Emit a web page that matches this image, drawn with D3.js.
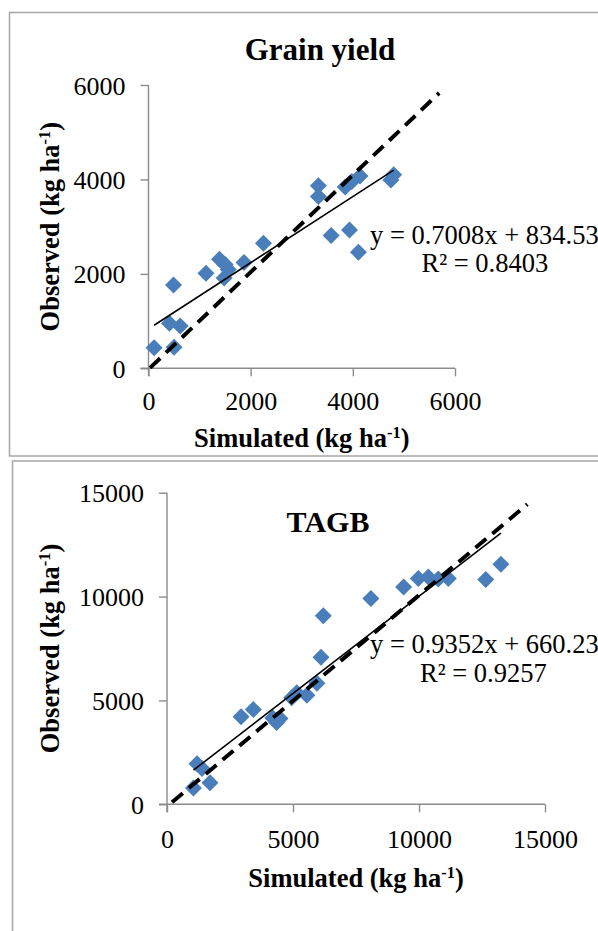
<!DOCTYPE html>
<html>
<head>
<meta charset="utf-8">
<script src="https://cdn.jsdelivr.net/npm/d3@7/dist/d3.min.js"></script>
<style>
  html, body { margin: 0; padding: 0; background: #fff; }
  svg { display: block; }
  svg text { font-family: "Liberation Serif", "Times New Roman", serif; }
</style>
</head>
<body>
<svg id="chart" width="598" height="931"></svg>
<script>
// Grain yield: simulated vs observed (kg/ha)
const grainSimulated = [110, 500, 410, 620, 490, 1125, 1390, 1480, 1560, 1500, 1870, 2250,
                        3325, 3325, 3575, 3935, 4110, 3850, 3980, 4140, 4745, 4800];
const grainObserved  = [437, 445, 955, 897, 1765, 2015, 2310, 1910, 2090, 2200, 2240, 2650,
                        3865, 3640, 2810, 2930, 2460, 3840, 3955, 4075, 3990, 4100];
const grainFit = { slope: 0.7008, intercept: 834.53, r2: 0.8403 };
const grainOneToOne = [[30, 10], [5690, 5830]];
const grainTicks = [0, 2000, 4000, 6000];

// Total above-ground biomass: simulated vs observed (kg/ha)
const tagbSimulated = [1050, 1190, 1390, 1706, 2940, 3425, 4200, 4350, 4484, 4948, 5150, 5550,
                       5950, 6110, 6202, 8090, 9390, 9972, 10370, 10766, 11163, 12650, 13250];
const tagbObserved  = [790, 1950, 1720, 1040, 4210, 4560, 4150, 3940, 4135, 5130, 5370, 5250,
                       5830, 7080, 9080, 9905, 10465, 10868, 10945, 10840, 10868, 10817, 11553];
const tagbFit = { slope: 0.9352, intercept: 660.23, r2: 0.9257 };
const tagbOneToOne = [[200, 100], [14300, 14440]];
const tagbTicks = [0, 5000, 10000, 15000];

const svg = d3.select("#chart");
svg.append("rect").attr("width", 598).attr("height", 931).attr("fill", "#fff");

// panel frames
svg.append("rect").attr("x", 9.5).attr("y", 12.5).attr("width", 600).attr("height", 443.5)
  .attr("fill", "none").attr("stroke", "#a6a6a6").attr("stroke-width", 1.5);
svg.append("rect").attr("x", 12.5).attr("y", 461).attr("width", 600).attr("height", 480)
  .attr("fill", "none").attr("stroke", "#a6a6a6").attr("stroke-width", 1.5);

function unitLabel(sel, prefix) {
  sel.append("tspan").text(prefix + " (kg ha");
  sel.append("tspan").attr("font-size", "62%").attr("dy", "-0.55em").text("-1");
  sel.append("tspan").attr("dy", "0.34em").text(")");
}

function drawPanel(p) {
  const x = d3.scaleLinear().domain([0, p.max]).range([p.left, p.right]);
  const y = d3.scaleLinear().domain([0, p.max]).range([p.bottom, p.top]);
  const g = svg.append("g");

  // axes
  const xAxis = g.append("g").attr("transform", `translate(0,${p.bottom})`)
    .call(d3.axisBottom(x).tickValues(p.ticks).tickSize(8).tickFormat(d3.format("d")));
  const yAxis = g.append("g").attr("transform", `translate(${p.left},0)`)
    .call(d3.axisLeft(y).tickValues(p.ticks).tickSize(8).tickFormat(d3.format("d")));
  [xAxis, yAxis].forEach(a => {
    a.attr("font-family", null).attr("font-size", null);
    a.select(".domain").attr("stroke", "#8c8c8c").attr("stroke-width", 1.4);
    a.selectAll(".tick line").attr("stroke", "#8c8c8c").attr("stroke-width", 1.4);
    a.selectAll(".tick text").attr("fill", "#000")
      .style("font-size", "26px")
      .style("font-family", "'Liberation Serif', 'Times New Roman', serif");
  });
  xAxis.select(".domain").attr("d", `M${p.left - 8},0H${p.right}`);
  yAxis.select(".domain").attr("d", `M0,${p.bottom + 8}V${p.top}`);
  xAxis.selectAll(".tick text").attr("y", 0).attr("dy", p.xLabelDy);
  yAxis.selectAll(".tick text").attr("x", -23).attr("dy", 9);

  // points (diamonds)
  const pts = p.sim.map((s, i) => [s, p.obs[i]]);
  g.append("g").selectAll("path").data(pts).join("path")
    .attr("transform", d => `translate(${x(d[0])},${y(d[1])})`)
    .attr("d", "M0,-8.5L8.5,0L0,8.5L-8.5,0Z")
    .attr("fill", "#4a7ebb");

  // 1:1 reference line
  g.append("line")
    .attr("x1", x(p.oneToOne[0][0])).attr("y1", y(p.oneToOne[0][1]))
    .attr("x2", x(p.oneToOne[1][0])).attr("y2", y(p.oneToOne[1][1]))
    .attr("stroke", "#000").attr("stroke-width", 4).attr("stroke-dasharray", "14,8");

  // linear fit across the simulated range
  const [xmin, xmax] = d3.extent(p.sim);
  const f = v => p.fit.slope * v + p.fit.intercept;
  g.append("line")
    .attr("x1", x(xmin)).attr("y1", y(f(xmin)))
    .attr("x2", x(xmax)).attr("y2", y(f(xmax)))
    .attr("stroke", "#000").attr("stroke-width", 1.6);

  // equation and R²
  g.append("text").attr("x", p.eqX).attr("y", p.eqY).attr("font-size", 26.5)
    .text(`y = ${p.fit.slope.toFixed(4)}x + ${p.fit.intercept.toFixed(2)}`);
  g.append("text").attr("x", p.r2X).attr("y", p.eqY + 28.5).attr("font-size", 26.5)
    .text(`R² = ${p.fit.r2.toFixed(4)}`);

  // title
  g.append("text").attr("x", p.titleX).attr("y", p.titleY).attr("text-anchor", "middle")
    .attr("font-weight", "bold").attr("font-size", p.titleSize).text(p.title);

  // axis titles
  g.append("text").attr("x", (p.left + p.right) / 2).attr("y", p.xTitleY)
    .attr("text-anchor", "middle").attr("font-weight", "bold").attr("font-size", 26.5)
    .call(unitLabel, "Simulated");
  g.append("text")
    .attr("transform", `translate(59,${(p.top + p.bottom) / 2}) rotate(-90)`)
    .attr("text-anchor", "middle").attr("font-weight", "bold").attr("font-size", 26.5)
    .call(unitLabel, "Observed");
}

drawPanel({
  sim: grainSimulated, obs: grainObserved, fit: grainFit, oneToOne: grainOneToOne,
  ticks: grainTicks, max: 6000,
  left: 148.5, right: 455, top: 85, bottom: 368.3,
  xLabelDy: 42, title: "Grain yield", titleX: 320, titleY: 60, titleSize: 31,
  eqX: 370, eqY: 243.5, r2X: 421.5, xTitleY: 447
});

drawPanel({
  sim: tagbSimulated, obs: tagbObserved, fit: tagbFit, oneToOne: tagbOneToOne,
  ticks: tagbTicks, max: 15000,
  left: 167, right: 545, top: 492.7, bottom: 804.3,
  xLabelDy: 43.5, title: "TAGB", titleX: 328, titleY: 531.5, titleSize: 30,
  eqX: 370, eqY: 653, r2X: 420, xTitleY: 887
});
</script>
</body>
</html>
